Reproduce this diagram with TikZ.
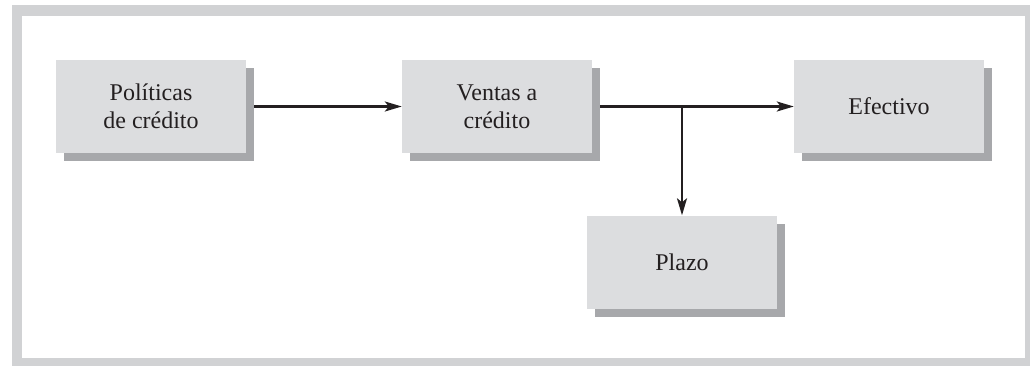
\documentclass[tikz,border=0pt]{standalone}
\usepackage{fontspec}
\setmainfont{Liberation Serif}
\usetikzlibrary{arrows.meta,shadows}
\definecolor{framegray}{HTML}{D1D2D4}
\definecolor{boxgray}{HTML}{DCDDDF}
\definecolor{shadowgray}{HTML}{A7A8AB}
\definecolor{ink}{HTML}{231F20}
\tikzset{
  flowbox/.style={fill=boxgray, minimum width=190pt, minimum height=93pt, inner sep=0pt,
    align=center, text=ink, font=\fontsize{24pt}{28pt}\selectfont,
    drop shadow={shadow xshift=8pt, shadow yshift=-8pt, fill=shadowgray, opacity=1}},
  flowarrow/.style={draw=ink, line width=2.2pt, -{Stealth[length=17pt,width=10pt,inset=4pt]}}
}
\begin{document}
\begin{tikzpicture}[x=1pt,y=-1pt]
\useasboundingbox (0,0) rectangle (1030,366);
\fill[framegray] (12,5) rectangle (1030,366);
\fill[white] (22,16) rectangle (1025,358);
\node[flowbox] (b1) at (151,106.5) {Políticas\\de crédito};
\node[flowbox] (b2) at (497,106.5) {Ventas a\\crédito};
\node[flowbox] (b3) at (889,106.5) {Efectivo};
\node[flowbox] (b4) at (682,262) {Plazo};
\coordinate (j) at (b4.north |- b2.east);
\draw[flowarrow] ([xshift=8pt]b1.east) -- (b2.west);
\draw[flowarrow] ([xshift=8pt]b2.east) -- (b3.west);
\draw[flowarrow] (j) -- (b4.north);
\end{tikzpicture}
\end{document}
